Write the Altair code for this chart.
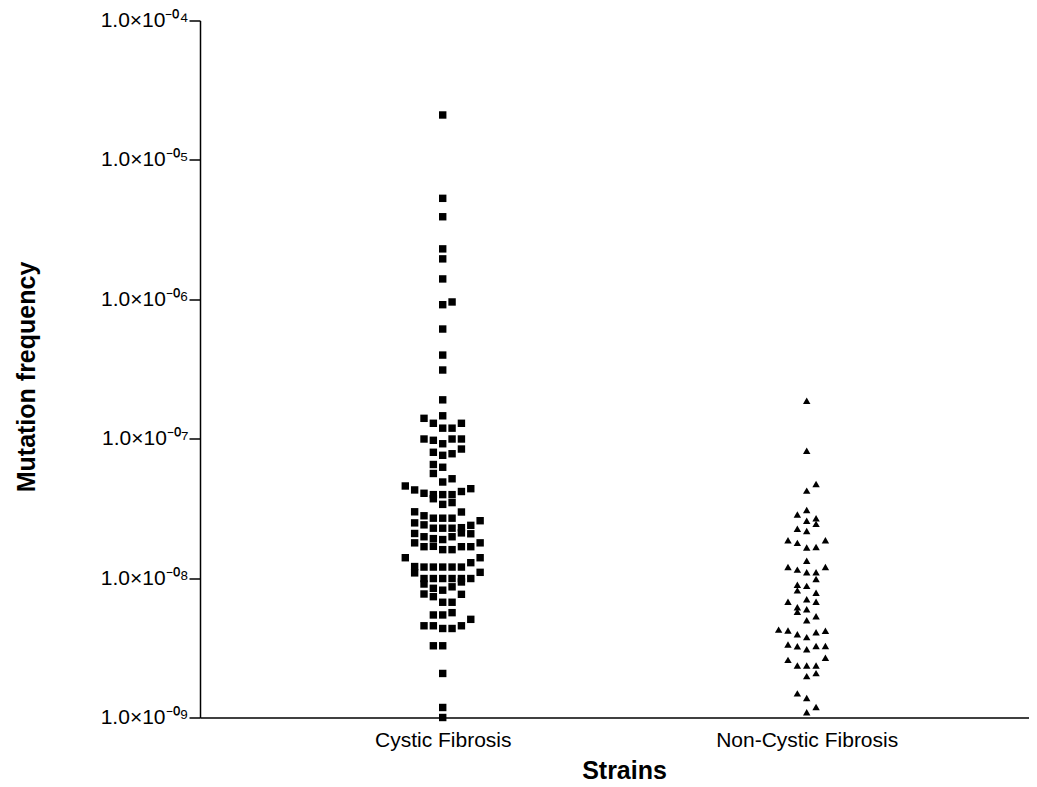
import altair as alt
import pandas as pd

groups = ["Cystic Fibrosis", "Non-Cystic Fibrosis"]

cf_values = [
    2.10e-5, 5.30e-6, 3.91e-6, 2.30e-6, 1.95e-6, 1.40e-6, 9.57e-7, 9.15e-7, 6.12e-7, 3.98e-7,
    3.11e-7, 1.90e-7, 1.46e-7,
    1.40e-7, 1.29e-7, 1.19e-7, 1.19e-7, 1.29e-7,
    9.95e-8, 9.74e-8, 9.20e-8, 9.95e-8, 9.95e-8,
    8.43e-8, 7.99e-8, 7.60e-8, 7.80e-8,
    6.53e-8, 6.24e-8, 5.63e-8,
    4.89e-8, 5.16e-8,
    4.58e-8, 4.29e-8, 4.06e-8, 3.97e-8, 3.71e-8, 3.97e-8, 3.97e-8, 4.18e-8, 4.38e-8,
    3.38e-8, 3.48e-8,
    2.99e-8, 2.80e-8, 2.69e-8, 2.69e-8, 2.69e-8, 2.98e-8, 2.58e-8,
    2.49e-8, 2.41e-8, 2.28e-8, 2.28e-8, 2.28e-8, 2.30e-8, 2.39e-8,
    2.09e-8, 1.98e-8, 1.92e-8, 1.89e-8, 1.98e-8, 2.11e-8, 2.08e-8,
    1.79e-8, 1.68e-8, 1.69e-8, 1.60e-8, 1.60e-8, 1.68e-8, 1.68e-8, 1.79e-8,
    1.40e-8, 1.40e-8, 1.29e-8,
    1.21e-8, 1.09e-8, 1.20e-8, 1.20e-8, 1.20e-8, 1.20e-8, 1.20e-8, 1.10e-8,
    9.93e-9, 9.07e-9, 9.93e-9, 9.93e-9, 9.93e-9, 9.93e-9, 9.38e-9, 9.93e-9,
    8.45e-9, 7.36e-9, 8.19e-9, 8.66e-9, 7.69e-9, 7.65e-9,
    6.71e-9, 6.71e-9,
    5.44e-9, 5.44e-9, 5.65e-9,
    4.55e-9, 4.55e-9, 4.35e-9, 4.35e-9, 4.55e-9, 5.06e-9,
    3.27e-9, 3.27e-9,
    2.07e-9, 1.18e-9, 1.00e-9,
]
cf_cols = [
    0, 0, 0, 0, 0, 0, 1, 0, 0, 0,
    0, 0, 0,
    -2, -1, 0, 1, 2,
    -2, -1, 0, 1, 2,
    2, -1, 0, 1,
    -1, 0, -1,
    0, 1,
    -4, -3, -2, -1, -1, 0, 1, 2, 3,
    0, 1,
    -3, -2, -1, 0, 1, 2, 4,
    -3, -2, -1, 0, 1, 2, 3,
    -3, -2, -1, 0, 1, 2, 3,
    -3, -2, -1, 0, 1, 2, 3, 4,
    -4, 4, 3,
    -3, -3, -2, -1, 0, 1, 2, 4,
    -2, -2, -1, 0, 1, 2, 2, 3,
    -1, -1, 0, 1, -2, 2,
    0, 1,
    -1, 0, 1,
    -2, -1, 0, 1, 2, 3,
    -1, 0,
    0, 0, 0,
]

ncf_values = [
    1.87e-7, 8.20e-8, 4.73e-8, 4.24e-8,
    3.08e-8, 2.86e-8, 2.58e-8, 2.69e-8, 2.45e-8, 2.26e-8, 2.18e-8,
    1.87e-8, 1.79e-8, 1.66e-8, 1.67e-8, 1.87e-8,
    1.33e-8,
    1.20e-8, 1.15e-8, 1.10e-8, 1.10e-8, 9.85e-9, 1.20e-8,
    8.97e-9, 8.16e-9, 8.79e-9, 7.86e-9,
    6.77e-9, 6.18e-9, 5.73e-9, 7.06e-9, 5.98e-9, 6.77e-9,
    4.98e-9, 5.32e-9,
    4.27e-9, 4.21e-9, 3.96e-9, 3.77e-9, 4.09e-9, 4.19e-9,
    3.34e-9, 3.24e-9, 3.09e-9, 3.26e-9, 3.26e-9,
    2.59e-9, 2.36e-9, 2.36e-9, 2.36e-9, 2.68e-9,
    1.98e-9, 2.08e-9,
    1.49e-9, 1.38e-9,
    1.09e-9, 1.19e-9,
]
ncf_cols = [
    0, 0, 1, 0,
    0, -1, 0, 1, 1, -1, 0,
    -2, -1, 0, 1, 2,
    0,
    -2, -1, 0, 1, 1, 2,
    -1, -1, 0, 1,
    -2, -1, -1, 0, 0, 1,
    0, 1,
    -3, -2, -1, 0, 1, 2,
    -2, -1, 0, 1, 2,
    -2, -1, 0, 1, 2,
    0, 1,
    -1, 0,
    0, 1,
]

y_ticks = [1e-9, 1e-8, 1e-7, 1e-6, 1e-5, 1e-4]
y_tick_labels = ["1.0×10⁻⁰⁹", "1.0×10⁻⁰⁸", "1.0×10⁻⁰⁷", "1.0×10⁻⁰⁶", "1.0×10⁻⁰⁵", "1.0×10⁻⁰⁴"]

rows = []
for v, c in zip(cf_values, cf_cols):
    rows.append({"group": groups[0], "gi": 1, "col": c, "value": v})
for v, c in zip(ncf_values, ncf_cols):
    rows.append({"group": groups[1], "gi": 2, "col": c, "value": v})
df = pd.DataFrame(rows)

label_arr = "[" + ",".join("'" + s + "'" for s in y_tick_labels) + "]"
y_label_expr = label_arr + "[round(log(datum.value)/LN10)+9]"
x_label_expr = "datum.value == 1 ? '" + groups[0] + "' : '" + groups[1] + "'"

FONT = "Liberation Sans"

chart = (
    alt.Chart(df)
    .transform_calculate(xpos="datum.gi + datum.col * 0.0257")
    .mark_point(filled=True, color="black", opacity=1, size=55)
    .encode(
        x=alt.X(
            "xpos:Q",
            scale=alt.Scale(domain=[0.3332, 2.6107], nice=False, zero=False),
            axis=alt.Axis(
                values=[1, 2],
                labelExpr=x_label_expr,
                ticks=False,
                grid=False,
                title="Strains",
                titleX=424,
                labelPadding=12,
                labelLimit=0,
                titlePadding=8,
                titleFontSize=25,
            ),
        ),
        y=alt.Y(
            "value:Q",
            scale=alt.Scale(type="log", domain=[1e-9, 1e-4], nice=False),
            axis=alt.Axis(
                values=y_ticks,
                labelExpr=y_label_expr,
                tickSize=11,
                labelPadding=1,
                grid=False,
                title="Mutation frequency",
                titleY=356,
                titlePadding=61,
                titleFontSize=25,
            ),
        ),
        shape=alt.Shape(
            "group:N",
            scale=alt.Scale(domain=groups, range=["square", "triangle-up"]),
            legend=None,
        ),
    )
    .properties(
        width=829,
        height=697,
        autosize=alt.AutoSizeParams(type="none"),
        padding={"left": 192, "top": 12.5, "right": 0, "bottom": 66},
    )
    .configure_view(stroke=None)
    .configure_axis(
        domainColor="black",
        domainWidth=1.5,
        tickColor="black",
        tickWidth=1.5,
        labelColor="black",
        titleColor="black",
        labelFont=FONT,
        titleFont=FONT,
        labelFontSize=21,
        titleFontWeight="bold",
    )
)

chart.save("out.html", embed_options={"renderer": "svg", "actions": False})
